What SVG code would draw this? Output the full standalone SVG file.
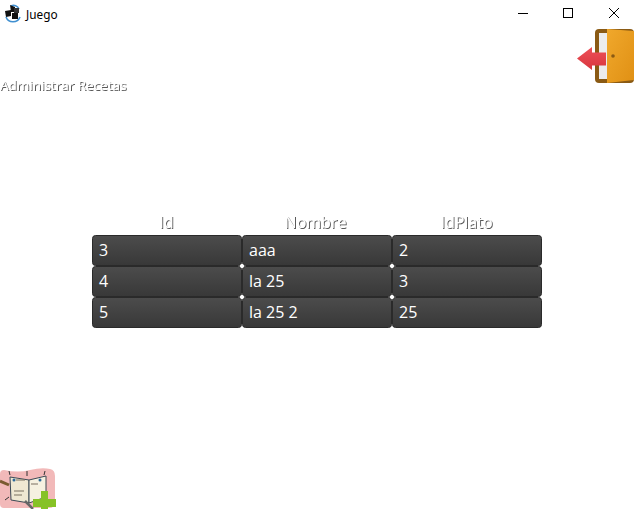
<svg xmlns="http://www.w3.org/2000/svg" width="634" height="509" viewBox="0 0 634 509">
<style>
.t{font-family:"Open Sans","Noto Sans",sans-serif;font-size:16px;fill:#fff}
.h{font-family:"Open Sans","Noto Sans",sans-serif;font-size:16px;fill:#fff;filter:url(#sh)}
.c{fill:url(#cell);stroke:#2a2a2a;stroke-width:1}
.d{fill:#fff}
</style>
<defs>
<filter id="sh" x="-10%" y="-20%" width="125%" height="150%"><feDropShadow dx="1" dy="1" stdDeviation="0.300" flood-color="#5a5a5a"/></filter>
<linearGradient id="cell" x1="0" y1="0" x2="0" y2="1"><stop offset="0" stop-color="#4c4c4c"/><stop offset="1" stop-color="#383838"/></linearGradient>
<linearGradient id="door" x1="0" y1="0" x2="1" y2="1"><stop offset="0" stop-color="#f0a82c"/><stop offset="1" stop-color="#e09014"/></linearGradient>
<linearGradient id="arrow" x1="0" y1="0" x2="0" y2="1"><stop offset="0" stop-color="#ee5058"/><stop offset="1" stop-color="#d8363e"/></linearGradient>
</defs>
<rect width="634" height="509" fill="#fff"/>
<g id="titlebar">
<g id="app-icon">
<path d="M6 17 A7.500 7.500 0 0 0 20 17" fill="none" stroke="#3f8fd0" stroke-width="1.600"/>
<path d="M11 6 A6 6 0 0 1 19 9" fill="none" stroke="#3f8fd0" stroke-width="1.600"/>
<path d="M10 5L15 7V12L11 12Z" fill="#111"/><path d="M5 11L11 10V16L6 17Z" fill="#111"/><rect x="12" y="13" width="6" height="6" fill="#111"/><rect x="14" y="8" width="5" height="5" fill="#333"/>
</g>
<text x="26" y="19" font-family="'Noto Sans','Open Sans',sans-serif" font-size="11.800" fill="#000">Juego</text>
<path d="M518 13.500H528" stroke="#000" fill="none"/>
<rect x="563.500" y="8.500" width="9" height="9" fill="none" stroke="#000"/>
<path d="M609 8L619 18M619 8L609 18" stroke="#000" fill="none"/>
</g>
<g id="exit-button">
<rect x="595" y="29" width="39" height="54" rx="4" fill="#8a5a14"/>
<rect x="599" y="33" width="10" height="46" fill="#ececec"/>
<path d="M607 29L634 31V80L607 83Z" fill="url(#door)"/>
<circle cx="613" cy="56" r="1.800" fill="#8a5a14"/>
<path d="M577 58.500L592 47V52.500H606V65.500H592V70Z" fill="url(#arrow)"/>
</g>
<g id="heading">
<text class="h" x="0" y="90" style="font-size:13.500px">Administrar Recetas</text>
</g>
<g id="table-header">
<text class="h" x="166.500" y="228" text-anchor="middle">Id</text>
<text class="h" x="315.500" y="228" text-anchor="middle">Nombre</text>
<text class="h" x="466.500" y="228" text-anchor="middle">IdPlato</text>
</g>
<g id="table-cells">
<rect class="c" x="92.500" y="235.500" width="149" height="30" rx="3"/>
<rect class="c" x="242.500" y="235.500" width="149" height="30" rx="3"/>
<rect class="c" x="392.500" y="235.500" width="149" height="30" rx="3"/>
<rect class="c" x="92.500" y="266.500" width="149" height="30" rx="3"/>
<rect class="c" x="242.500" y="266.500" width="149" height="30" rx="3"/>
<rect class="c" x="392.500" y="266.500" width="149" height="30" rx="3"/>
<rect class="c" x="92.500" y="297.500" width="149" height="30" rx="3"/>
<rect class="c" x="242.500" y="297.500" width="149" height="30" rx="3"/>
<rect class="c" x="392.500" y="297.500" width="149" height="30" rx="3"/>
<circle class="d" cx="242" cy="266" r="2"/><circle class="d" cx="392" cy="266" r="2"/>
<circle class="d" cx="242" cy="297" r="2"/><circle class="d" cx="392" cy="297" r="2"/>
<text class="t" x="99" y="256">3</text><text class="t" x="249" y="256">aaa</text><text class="t" x="399" y="256">2</text>
<text class="t" x="99" y="287">4</text><text class="t" x="249" y="287">la 25</text><text class="t" x="399" y="287">3</text>
<text class="t" x="99" y="318">5</text><text class="t" x="249" y="318">la 25 2</text><text class="t" x="399" y="318">25</text>
</g>
<g id="add-recipe-button">
<path d="M4 470Q18 473 30 470T50 469Q55 470 55 476V502Q55 508 49 508H4Q0 508 0 504V474Q0 470 4 470Z" fill="#f2b9b9"/>
<path d="M10 477L29 480V503L11 500Z" fill="#efe8d2" stroke="#3c4a55" stroke-width="1"/>
<path d="M29 480L46 476V497L29 503Z" fill="#f6f1e0" stroke="#3c4a55" stroke-width="1"/>
<path d="M0 481L9 485" stroke="#7a5a30" stroke-width="3"/>
<circle cx="14" cy="480" r="1.500" fill="#2e6a9a"/><circle cx="40" cy="480" r="1.500" fill="#2e6a9a"/>
<path d="M16 480H25M14 491H24M31 484H38M14 495H22" stroke="#7a7060" stroke-width="1.200"/>
<path d="M9 471L10 475M27 471V476M45 471L44 475M5 500L9 497" stroke="#333" stroke-width="1"/>
<path d="M25 501L33 509" stroke="#666" stroke-width="2.500"/>
<path d="M41 491H48V499H56V507H48V509H41V507H33V499H41Z" fill="#86c226"/>
</g>
</svg>
